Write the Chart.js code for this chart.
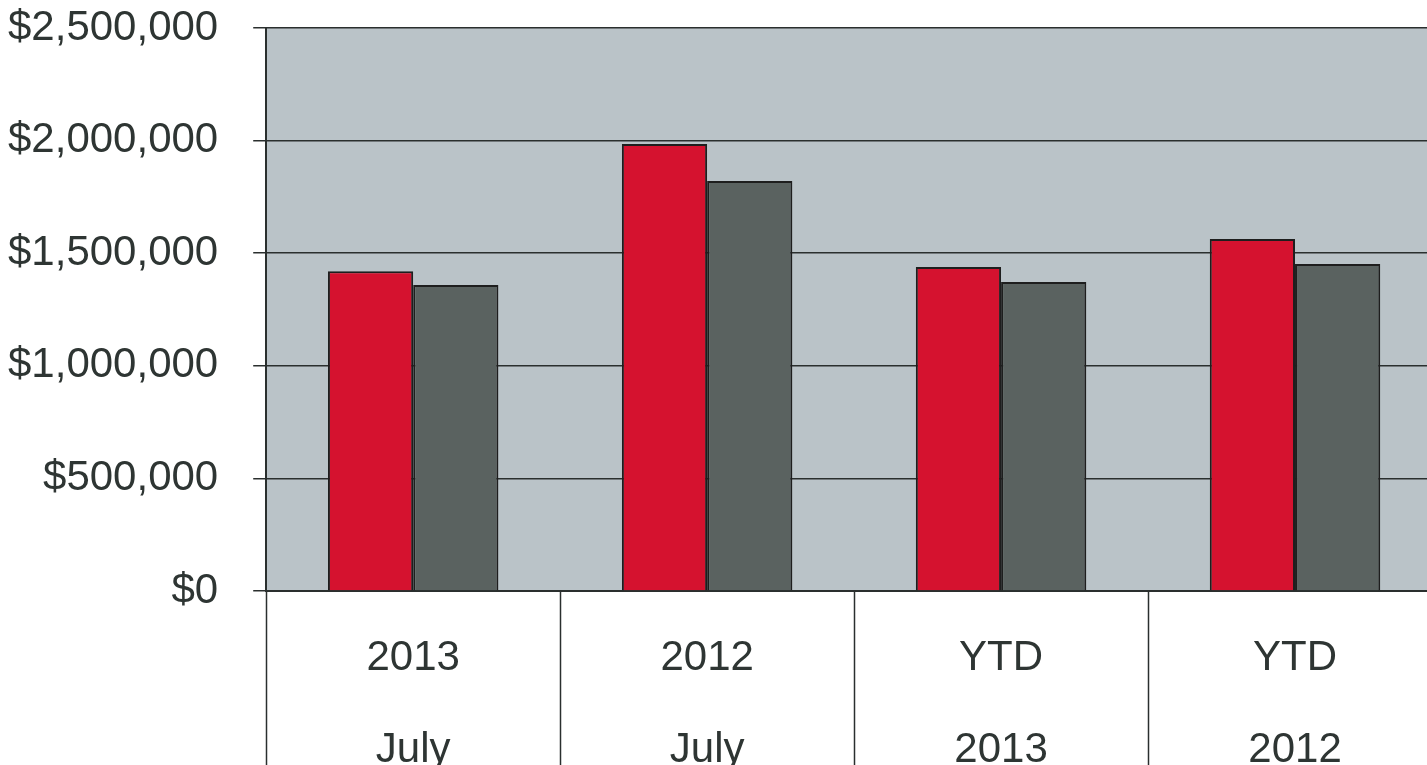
<!DOCTYPE html>
<html lang="en">
<head>
<meta charset="UTF-8">
<title>July and YTD</title>
<script src="https://cdn.jsdelivr.net/npm/chart.js@4/dist/chart.umd.min.js"></script>
<style>
  html, body { margin: 0; padding: 0; background: #fff; overflow: hidden; }
  .wrap { width: 1445px; height: 765px; position: relative; }
</style>
</head>
<body>
<div class="wrap"><canvas id="myChart"></canvas></div>
<script>
  // values
  const categories = [['2013', 'July'], ['2012', 'July'], ['YTD', '2013'], ['YTD', '2012']];
  const redValues = [1420000, 1985000, 1439000, 1563000];
  const grayValues = [1359000, 1821000, 1372000, 1452000];
  const yTicks = [0, 500000, 1000000, 1500000, 2000000, 2500000];

  const textColor = '#2e3533';
  const lineColor = '#2a2f2e';

  // plot background + category separators under the x axis
  const chartDecor = {
    id: 'chartDecor',
    beforeDraw(chart) {
      const { ctx, chartArea } = chart;
      ctx.save();
      ctx.fillStyle = '#bac3c8';
      ctx.fillRect(chartArea.left, chartArea.top, chartArea.right - chartArea.left, chartArea.bottom - chartArea.top);
      ctx.restore();
    },
    afterDraw(chart) {
      const xs = chart.scales.x;
      const ctx = chart.ctx;
      const step = (xs.right - xs.left) / categories.length;
      ctx.save();
      ctx.strokeStyle = lineColor;
      ctx.lineWidth = 1.5;
      for (let i = 0; i <= categories.length; i++) {
        const x = Math.round(xs.left + i * step) + 0.5;
        ctx.beginPath();
        ctx.moveTo(x, xs.top);
        ctx.lineTo(x, chart.height);
        ctx.stroke();
      }
      ctx.restore();
    }
  };

  new Chart(document.getElementById('myChart'), {
    type: 'bar',
    data: {
      labels: categories,
      datasets: [
        {
          data: redValues,
          backgroundColor: '#d5122f',
          borderColor: '#1e1e1e',
          borderWidth: 2,
          categoryPercentage: 0.58,
          barPercentage: 1
        },
        {
          data: grayValues,
          backgroundColor: '#5a6260',
          borderColor: '#1e1e1e',
          borderWidth: 2,
          categoryPercentage: 0.58,
          barPercentage: 1
        }
      ]
    },
    options: {
      responsive: true,
      maintainAspectRatio: false,
      animation: false,
      layout: { padding: { top: 28, left: -27, right: 3, bottom: 0 } },
      plugins: {
        legend: { display: false },
        tooltip: { enabled: false }
      },
      scales: {
        x: {
          grid: { display: false },
          border: { display: true, color: lineColor, width: 2 },
          ticks: {
            color: textColor,
            padding: 13,
            maxRotation: 0,
            autoSkip: false,
            font: { family: 'Liberation Sans, Arial, sans-serif', size: 42, lineHeight: 2.2 }
          },
          afterFit(scale) { scale.height = 174; }
        },
        y: {
          min: 0,
          max: 2500000,
          afterBuildTicks(scale) { scale.ticks = yTicks.map(v => ({ value: v })); },
          afterFit(scale) { scale.paddingTop = 0; scale.paddingBottom = 0; },
          grid: { color: lineColor, lineWidth: 1.5, tickLength: 13, drawTicks: true },
          border: { display: true, color: lineColor, width: 2 },
          ticks: {
            color: textColor,
            padding: 35,
            font: { family: 'Liberation Sans, Arial, sans-serif', size: 42 },
            callback: v => '$' + Number(v).toLocaleString('en-US')
          }
        }
      }
    },
    plugins: [chartDecor]
  });
</script>
</body>
</html>
